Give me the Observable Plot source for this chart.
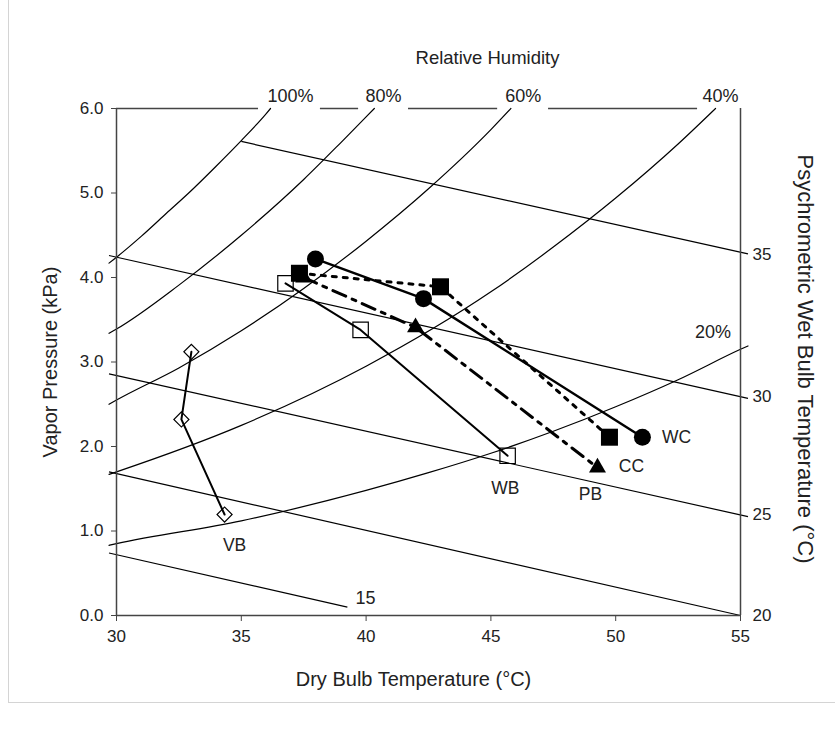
<!DOCTYPE html>
<html><head><meta charset="utf-8">
<script src="https://cdn.jsdelivr.net/npm/d3@7"></script>
<script src="https://cdn.jsdelivr.net/npm/@observablehq/plot@0.6"></script>
<style>
body{margin:0;background:#fff;}
#wrap{position:relative;width:840px;height:731px;}
#border{position:absolute;left:8px;top:-1px;width:826px;height:703px;border-left:1px solid #d4d4d4;border-bottom:1px solid #d4d4d4;pointer-events:none;z-index:2;}
#wrap svg{position:absolute;left:0;top:0;}
</style></head><body><div id="wrap"><div id="border"></div></div>
<script>
// ---- axis ticks ----
const xTicks = [30, 35, 40, 45, 50, 55];
const yTicks = [0, 1, 2, 3, 4, 5, 6];
const wbAxisLabels = [20, 25, 30, 35];
const wbAxisVP = [0.0, 1.19, 2.59, 4.27];

// ---- relative humidity curves [dry bulb °C, vapor pressure kPa] ----
const rh100 = [[29.7,4.17],[30,4.24],[31,4.49],[32,4.76],[33,5.03],[34,5.32],[35,5.62],[36,5.94],[36.17,6.0]];
const rh80  = [[29.7,3.34],[30,3.39],[32.5,3.91],[35,4.50],[37.5,5.16],[39,5.60],[40,5.90],[40.33,6.0]];
const rh60  = [[29.7,2.50],[30,2.55],[32.5,2.93],[35,3.37],[37.5,3.87],[40,4.43],[42.5,5.05],[45,5.75],[45.8,6.0]];
const rh40  = [[29.7,1.67],[30,1.70],[35,2.25],[40,2.95],[45,3.83],[47.5,4.36],[50,4.94],[52.5,5.58],[54.0,6.0]];
const rh20  = [[29.7,0.83],[30,0.85],[35,1.12],[40,1.48],[42.5,1.69],[45,1.92],[47.5,2.18],[50,2.47],[52.5,2.79],[55,3.15],[55.3,3.19]];
const rhCurveNames = ["100%","80%","60%","40%","20%"];

// ---- wet bulb lines ----
const wbTemps  = [15, 20, 25, 30, 35];
const wbStartT = [29.7, 29.7, 29.7, 29.7, 35.0];
const wbStartE = [0.74, 1.70, 2.86, 4.26, 5.61];
const wbEndT   = [39.25, 55.0, 55.3, 55.3, 55.3];
const wbEndE   = [0.10, 0.0, 1.17, 2.57, 4.28];

// ---- top frame segments (gaps for RH labels) ----
const topSegStart = [30, 38.17, 41.70, 47.31];
const topSegEnd   = [35.69, 39.70, 45.27, 53.28];
const topRhLabels = ["100%","80%","60%","40%"];
const topRhLabelT = [36.97, 40.7, 46.3, 54.2];

// ---- in-plot annotations ----
const noteText = ["20%", "15"];
const noteT = [53.9, 39.98];
const noteE = [3.35, 0.20];

// ---- data series ----
const wcT = [37.97, 42.30, 51.07], wcE = [4.22, 3.75, 2.11];
const ccT = [37.33, 42.98, 49.75], ccE = [4.05, 3.89, 2.11];
const pbT = [37.50, 41.98, 49.27], pbE = [4.00, 3.41, 1.75];
const wbT = [36.77, 39.78, 45.67], wbE = [3.93, 3.38, 1.89];
const vbT = [33.00, 32.60, 34.33], vbE = [3.12, 2.32, 1.195];

const seriesLabels = ["VB","WB","PB","CC","WC"];
const seriesLabelT = [34.73, 45.58, 48.99, 50.63, 52.44];
const seriesLabelE = [0.83, 1.51, 1.43, 1.76, 2.11];

// ---- build tables ----
const rows = (T, E) => T.map((t, i) => ({t, e: E[i]}));
const rhRows = [rh100, rh80, rh60, rh40, rh20].flatMap((c, k) => c.map(([t, e]) => ({rh: rhCurveNames[k], t, e})));
const wbRows = wbTemps.map((tw, i) => ({tw, t1: wbStartT[i], e1: wbStartE[i], t2: wbEndT[i], e2: wbEndE[i]}));
const topSegs = topSegStart.map((a, i) => ({a, b: topSegEnd[i]}));
const wbMap = new Map(wbAxisVP.map((v, i) => [v, wbAxisLabels[i]]));
const yTop = yTicks[yTicks.length - 1];

const FONT = "'Liberation Sans', Arial, Helvetica, sans-serif";
const INK = "#000";
const FRAME = "#444";
const TXT = "#222";

const chart = Plot.plot({
  width: 840,
  height: 731,
  marginLeft: 116,
  marginRight: 100,
  marginTop: 108,
  marginBottom: 116,
  x: {domain: [30, 55]},
  y: {domain: [0, 6]},
  style: {fontFamily: FONT, fontSize: "17px", color: TXT, background: "transparent"},
  marks: [
    // background psychrometric lines
    Plot.line(rhRows, {x: "t", y: "e", z: "rh", curve: "monotone-x", stroke: INK, strokeWidth: 1.2}),
    Plot.link(wbRows, {x1: "t1", y1: "e1", x2: "t2", y2: "e2", stroke: INK, strokeWidth: 1.2}),
    // frame
    Plot.ruleX([30, 55], {stroke: FRAME, strokeWidth: 1.5}),
    Plot.ruleY([0], {stroke: FRAME, strokeWidth: 1.5}),
    Plot.ruleY(topSegs, {y: yTop, x1: "a", x2: "b", stroke: FRAME, strokeWidth: 1.5}),
    // axes
    Plot.axisX({ticks: xTicks, tickSize: 6, tickPadding: 8, tickFormat: d => String(d), label: null, fontSize: 17, stroke: FRAME}),
    Plot.axisY({ticks: yTicks, tickSize: 5, tickPadding: 8, tickFormat: d3.format(".1f"), label: null, fontSize: 17, stroke: FRAME}),
    Plot.axisY({anchor: "right", ticks: wbAxisVP, tickSize: 0, tickPadding: 12, tickFormat: d => String(wbMap.get(d)), label: null, fontSize: 17}),
    // RH labels on top
    Plot.text(topRhLabels, {x: (d, i) => topRhLabelT[i], y: yTop, dy: -12, text: d => d, fontSize: 18, fill: TXT, lineAnchor: "middle"}),
    Plot.text(noteText, {x: (d, i) => noteT[i], y: (d, i) => noteE[i], text: d => d, fontSize: 18, fill: TXT}),
    // series lines
    Plot.line(rows(vbT, vbE), {x: "t", y: "e", stroke: INK, strokeWidth: 2}),
    Plot.line(rows(wbT, wbE), {x: "t", y: "e", stroke: INK, strokeWidth: 2}),
    Plot.line(rows(pbT, pbE), {x: "t", y: "e", stroke: INK, strokeWidth: 3, strokeDasharray: "14,7,4,7"}),
    Plot.line(rows(ccT, ccE), {x: "t", y: "e", stroke: INK, strokeWidth: 3, strokeDasharray: "4,7"}),
    Plot.line(rows(wcT, wcE), {x: "t", y: "e", stroke: INK, strokeWidth: 2.5}),
    // markers
    Plot.dot(rows(pbT, pbE), {x: "t", y: "e", symbol: "triangle", r: 6.3, fill: INK, stroke: "none"}),
    Plot.dot(rows(wbT, wbE), {x: "t", y: "e", symbol: "square", r: 8.7, fill: "none", stroke: INK, strokeWidth: 1.2}),
    Plot.dot(rows(vbT, vbE), {x: "t", y: "e", symbol: "square", rotate: 45, r: 6, fill: "none", stroke: INK, strokeWidth: 1.2}),
    Plot.dot(rows(ccT, ccE), {x: "t", y: "e", symbol: "square", r: 9.6, fill: INK, stroke: "none"}),
    Plot.dot(rows(wcT, wcE), {x: "t", y: "e", symbol: "circle", r: 8.5, fill: INK, stroke: "none"}),
    // series labels
    Plot.text(seriesLabels, {x: (d, i) => seriesLabelT[i], y: (d, i) => seriesLabelE[i], text: d => d, fontSize: 17.5, fill: TXT}),
    // titles
    Plot.text(["Relative Humidity"], {frameAnchor: "top", dx: 59, dy: -50, textAnchor: "middle", lineAnchor: "middle", fontSize: 18.5, fill: TXT}),
    Plot.text(["Vapor Pressure (kPa)"], {frameAnchor: "left", dx: -66, rotate: -90, textAnchor: "middle", lineAnchor: "middle", fontSize: 20, fill: TXT}),
    Plot.text(["Dry Bulb Temperature (°C)"], {frameAnchor: "bottom", dx: -15, dy: 64, textAnchor: "middle", lineAnchor: "middle", fontSize: 20, fill: TXT}),
    Plot.text(["Psychrometric Wet Bulb Temperature (°C)"], {frameAnchor: "right", dx: 65, dy: -3, rotate: 90, textAnchor: "middle", lineAnchor: "middle", fontSize: 22, fill: TXT})
  ]
});
document.getElementById("wrap").appendChild(chart);
</script>
</body></html>
